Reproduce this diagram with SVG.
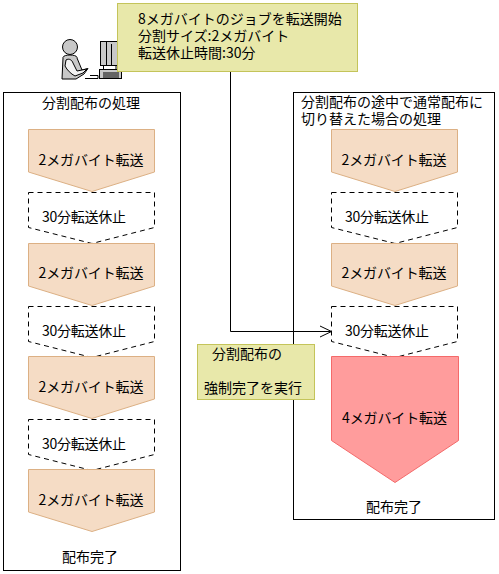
<svg xmlns="http://www.w3.org/2000/svg" width="499" height="574" viewBox="0 0 499 574">
<style>
text{font-family:"Noto Sans CJK JP","Liberation Sans",sans-serif;font-size:14px;fill:#000}
.frame{fill:#fff;stroke:#000;stroke-width:1}
.note{fill:#e8e8aa;stroke:#c4c45a;stroke-width:1}
.xfer{fill:#f5dcc5;stroke:#dcb084;stroke-width:1}
.pause{fill:#fff;stroke:#000;stroke-width:1;stroke-dasharray:5 4}
.big{fill:#ff9c9c;stroke:#f46a6a;stroke-width:1}
.conn{fill:none;stroke:#000;stroke-width:1}
.ic{fill:#c8c8c8;stroke:#000;stroke-width:1}
.iw{fill:#f2f2f2;stroke:#000;stroke-width:1}
</style>
<defs>
<path id="px" class="xfer" d="M28.5 0H154.5V42.5L92 62L28.5 42.5Z"/>
<path id="pp" class="pause" d="M28.5 0H154.5V35L92 51L28.5 35Z"/>
</defs>
<g id="frame-left"><rect class="frame" x="3.5" y="92.5" width="177" height="478"/><text x="42" y="108" textLength="98">分割配布の処理</text></g>
<g id="frame-right"><rect class="frame" x="293.5" y="92.5" width="201" height="427"/><text y="106.500"><tspan x="301" y="106.500">分割配布の途中で通常配布に</tspan><tspan x="301" y="123.500">切り替えた場合の処理</tspan></text></g>
<g id="user">
<circle class="ic" cx="70" cy="47" r="7.500"/>
<path class="ic" d="M63 58C62 54 78 54 77 58L82 70L88 68.500L84 74L76 79H62Z"/>
<path class="iw" d="M66 60C69 58 72 60 73 63L77 71L87 69L83 73L75 76C71 74 67 70 65 66Z"/>
<path d="M85 78.500H98V75.500H90" fill="none" stroke="#000"/>
<rect class="ic" x="100.500" y="41.500" width="19" height="24"/>
<path d="M106.500 42V65M111.500 44V65" stroke="#000"/>
<rect class="ic" x="99.500" y="69.500" width="22" height="9"/>
<path d="M103.500 66V69M116 66V69M104 72V78M106 72V78M108 72V78M110 72V78M112 72V78M114 72V78M116 72V78M118 72V78" stroke="#000"/>
</g>
<g id="L1"><use href="#px" y="129.5"/><text x="38.500" y="164.500" textLength="105">2メガバイト転送</text></g>
<g id="L2"><use href="#pp" y="192.5"/><text x="42" y="222" textLength="84">30分転送休止</text></g>
<g id="L3"><use href="#px" y="243.5"/><text x="38.500" y="278" textLength="105">2メガバイト転送</text></g>
<g id="L4"><use href="#pp" y="306.5"/><text x="42" y="335.500" textLength="84">30分転送休止</text></g>
<g id="L5"><use href="#px" y="356.5"/><text x="38.500" y="391.500" textLength="105">2メガバイト転送</text></g>
<g id="L6"><use href="#pp" y="419.5"/><text x="42" y="449" textLength="84">30分転送休止</text></g>
<g id="L7"><use href="#px" y="469.5"/><text x="38.500" y="504.500" textLength="105">2メガバイト転送</text></g>
<text id="L-done" x="62" y="562" textLength="56">配布完了</text>
<g id="R1"><use href="#px" x="303" y="129.5"/><text x="341.500" y="164.500" textLength="105">2メガバイト転送</text></g>
<g id="R2"><use href="#pp" x="303" y="192.5"/><text x="345" y="222" textLength="84">30分転送休止</text></g>
<g id="R3"><use href="#px" x="303" y="243.5"/><text x="341.500" y="278" textLength="105">2メガバイト転送</text></g>
<g id="R4"><use href="#pp" x="303" y="306.5"/><text x="345" y="335.500" textLength="84">30分転送休止</text></g>
<g id="R5"><path class="big" d="M331.500 356.500H458.500V440.500L395 482.500L331.500 440.500Z"/><text x="342" y="423" textLength="105">4メガバイト転送</text></g>
<text id="R-done" x="366" y="512" textLength="56">配布完了</text>
<g id="connectors"><path class="conn" d="M230.500 72V331.500H331"/><path class="conn" d="M320 326L331.500 331.500L320 337"/></g>
<g id="start"><rect class="note" x="117.500" y="3.500" width="240" height="68"/><text y="24"><tspan x="138" y="24">8メガバイトのジョブを転送開始</tspan><tspan x="138" y="41">分割サイズ:2メガバイト</tspan><tspan x="138" y="58">転送休止時間:30分</tspan></text></g>
<g id="force"><rect class="note" x="197.500" y="344.500" width="117" height="55"/><text x="212" y="359" textLength="70">分割配布の</text><text x="204" y="393" textLength="98">強制完了を実行</text></g>
</svg>
